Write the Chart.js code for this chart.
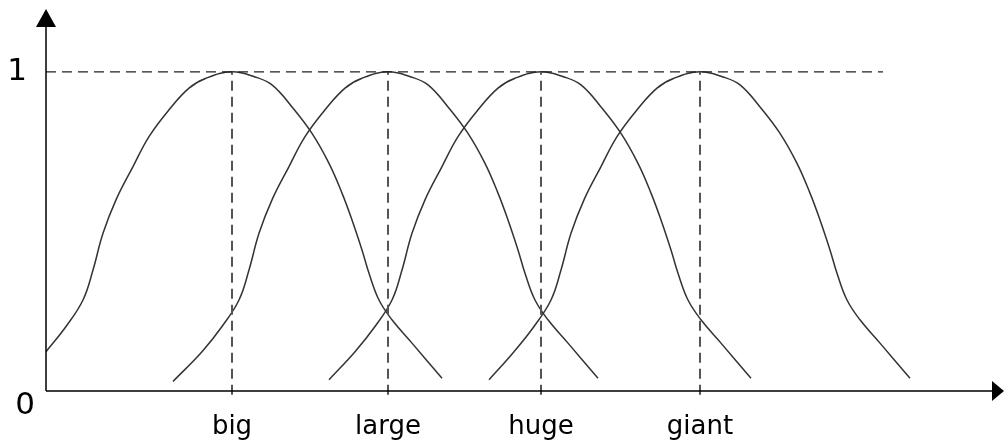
<!DOCTYPE html>
<html>
<head>
  <meta charset="utf-8">
  <title>Fuzzy size sets</title>
  <script src="https://cdn.jsdelivr.net/npm/chart.js"></script>
  <style>
    body { margin: 0; background: #fff; }
    .chart-container { width: 1004px; height: 442px; }
  </style>
</head>
<body>
  <div class="chart-container">
    <canvas id="fuzzyChart"></canvas>
  </div>

  <script>
    // categories and where each one peaks (x in axis units, 0 = y axis)
    const categories = ['big', 'large', 'huge', 'giant'];
    const peakX = [186, 342, 495, 654];
    const yTickValues = [0, 1];
    const yTickLabels = ['0', '1'];
    const topLineEnd = 837; // dashed line at 1 stops here

    // membership curves
    const bigX   = [0, 20, 37, 47, 57, 70, 87, 103, 123, 143, 160, 186, 209, 226, 246, 266, 283, 296, 306, 316, 323, 333, 346, 366, 396];
    const bigY   = [0.123, 0.202, 0.285, 0.379, 0.494, 0.599, 0.703, 0.797, 0.881, 0.949, 0.98, 1, 0.984, 0.959, 0.89, 0.807, 0.713, 0.62, 0.536, 0.442, 0.369, 0.285, 0.223, 0.15, 0.04];
    const largeX = [127, 156, 176, 193, 203, 213, 226, 243, 259, 279, 299, 316, 342, 365, 382, 402, 422, 439, 452, 462, 472, 479, 489, 502, 522, 552];
    const largeY = [0.03, 0.123, 0.202, 0.285, 0.379, 0.494, 0.599, 0.703, 0.797, 0.881, 0.949, 0.98, 1, 0.984, 0.959, 0.89, 0.807, 0.713, 0.62, 0.536, 0.442, 0.369, 0.285, 0.223, 0.15, 0.04];
    const hugeX  = [283, 309, 329, 346, 356, 366, 379, 396, 412, 432, 452, 469, 495, 518, 535, 555, 575, 592, 605, 615, 625, 632, 642, 655, 675, 705];
    const hugeY  = [0.035, 0.123, 0.202, 0.285, 0.379, 0.494, 0.599, 0.703, 0.797, 0.881, 0.949, 0.98, 1, 0.984, 0.959, 0.89, 0.807, 0.713, 0.62, 0.536, 0.442, 0.369, 0.285, 0.223, 0.15, 0.04];
    const giantX = [443, 468, 488, 505, 515, 525, 538, 555, 571, 591, 611, 628, 654, 677, 694, 714, 734, 751, 764, 774, 784, 791, 801, 814, 834, 864];
    const giantY = [0.035, 0.123, 0.202, 0.285, 0.379, 0.494, 0.599, 0.703, 0.797, 0.881, 0.949, 0.98, 1, 0.984, 0.959, 0.89, 0.807, 0.713, 0.62, 0.536, 0.442, 0.369, 0.285, 0.223, 0.15, 0.04];

    const zip = (xs, ys) => xs.map((x, i) => ({ x: x, y: ys[i] }));

    function curve(xs, ys) {
      return {
        data: zip(xs, ys),
        borderColor: '#333',
        borderWidth: 1.5,
        pointRadius: 0,
        fill: false,
        tension: 0.4
      };
    }

    const datasets = [];
    // dashed line at membership 1
    datasets.push({
      data: [{ x: 0, y: 1 }, { x: topLineEnd, y: 1 }],
      borderColor: '#222',
      borderWidth: 1.2,
      borderDash: [10, 6],
      pointRadius: 0
    });
    // dashed drop lines under each peak
    peakX.forEach(px => {
      datasets.push({
        data: [{ x: px, y: -0.012 }, { x: px, y: 1 }],
        borderColor: '#555',
        borderWidth: 2,
        borderDash: [10, 6],
        pointRadius: 0,
        clip: false
      });
    });
    datasets.push(curve(bigX, bigY));
    datasets.push(curve(largeX, largeY));
    datasets.push(curve(hugeX, hugeY));
    datasets.push(curve(giantX, giantY));

    // axes with arrow heads, tick text and category names
    const axesPlugin = {
      id: 'axesPlugin',
      afterDraw(chart) {
        const ctx = chart.ctx;
        const xs = chart.scales.x, ys = chart.scales.y;
        const x0 = xs.getPixelForValue(0);
        const y0 = ys.getPixelForValue(0);
        const yTop = chart.chartArea.top;
        const xEnd = chart.width;
        ctx.save();
        ctx.strokeStyle = '#000';
        ctx.fillStyle = '#000';
        ctx.lineWidth = 1.5;
        ctx.beginPath();
        ctx.moveTo(x0, y0);
        ctx.lineTo(x0, yTop + 16);
        ctx.moveTo(x0, y0);
        ctx.lineTo(xEnd - 12, y0);
        ctx.stroke();
        // arrow heads
        ctx.beginPath();
        ctx.moveTo(x0, yTop + 1);
        ctx.lineTo(x0 - 10, yTop + 19);
        ctx.lineTo(x0 + 10, yTop + 19);
        ctx.closePath();
        ctx.fill();
        ctx.beginPath();
        ctx.moveTo(xEnd, y0);
        ctx.lineTo(xEnd - 12, y0 - 10);
        ctx.lineTo(xEnd - 12, y0 + 10);
        ctx.closePath();
        ctx.fill();

        ctx.fillStyle = '#000';
        ctx.textAlign = 'center';
        ctx.textBaseline = 'middle';
        ctx.font = '31px "DejaVu Sans"';
        yTickValues.forEach((v, i) => {
          const py = ys.getPixelForValue(v);
          if (v === 0) ctx.fillText(yTickLabels[i], x0 - 21, py + 15);
          else ctx.fillText(yTickLabels[i], x0 - 29, py);
        });
        ctx.font = '26px "DejaVu Sans"';
        categories.forEach((c, i) => {
          ctx.fillText(c, xs.getPixelForValue(peakX[i]), y0 + 36);
        });
        ctx.restore();
      }
    };

    new Chart(document.getElementById('fuzzyChart'), {
      type: 'line',
      data: { datasets: datasets },
      options: {
        responsive: true,
        maintainAspectRatio: false,
        animation: false,
        layout: { padding: { left: 46, right: 13, top: 8, bottom: 51 } },
        plugins: { legend: { display: false }, tooltip: { enabled: false } },
        scales: {
          x: { type: 'linear', min: 0, max: 945, display: false },
          y: { type: 'linear', min: 0, max: 1.2, display: false }
        }
      },
      plugins: [axesPlugin]
    });
  </script>
</body>
</html>
